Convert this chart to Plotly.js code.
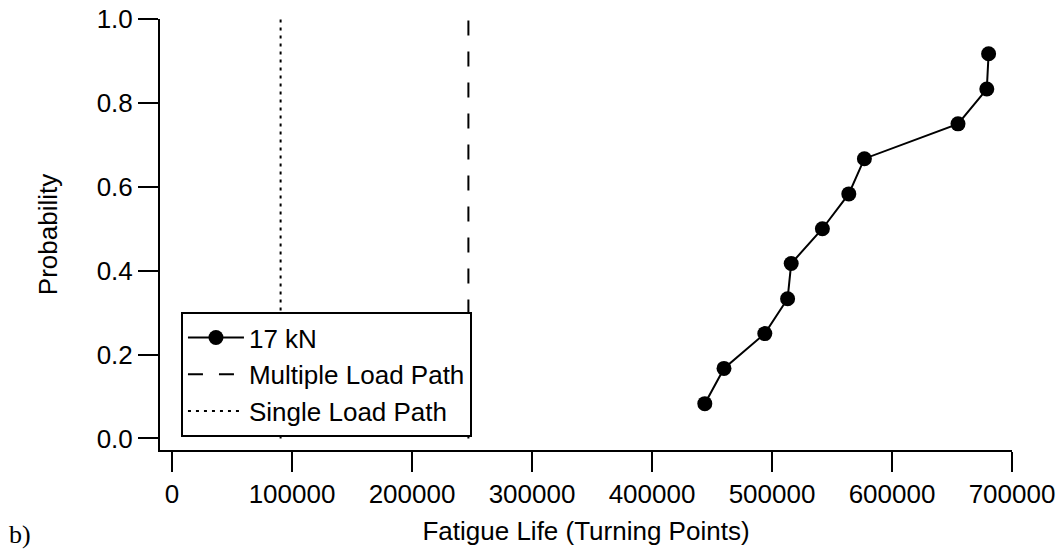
<!DOCTYPE html>
<html>
<head>
<meta charset="utf-8">
<script src="https://cdn.plot.ly/plotly-3.0.1.min.js"></script>
<style>
  html, body { margin: 0; padding: 0; background: #fff; }
  #chart { width: 1058px; height: 552px; }
</style>
</head>
<body>
<div id="chart"></div>
<script>
// Data
const fatigueLife17kN = [444000, 460000, 494000, 513000, 516000, 542000, 564000, 577000, 655000, 679000, 680500];
const probability17kN = [0.083, 0.167, 0.25, 0.333, 0.417, 0.5, 0.583, 0.667, 0.75, 0.833, 0.917];
const multipleLoadPathLife = 247000;
const singleLoadPathLife = 90500;
const verticalSpan = [0, 1];
const seriesNames = ['17 kN', 'Multiple Load Path', 'Single Load Path'];
const xTickValues = [0, 100000, 200000, 300000, 400000, 500000, 600000, 700000];
const yTickValues = [0.0, 0.2, 0.4, 0.6, 0.8, 1.0];

const FONT = '"Liberation Sans", Arial, Helvetica, sans-serif';

const traces = [
  {
    x: fatigueLife17kN, y: probability17kN, name: seriesNames[0],
    type: 'scatter', mode: 'lines+markers',
    line: { color: '#000', width: 2 },
    marker: { color: '#000', size: 15, symbol: 'circle' }
  },
  {
    x: [multipleLoadPathLife, multipleLoadPathLife], y: verticalSpan, name: seriesNames[1],
    type: 'scatter', mode: 'lines',
    line: { color: '#000', width: 2, dash: '15px,16px' }
  },
  {
    x: [singleLoadPathLife, singleLoadPathLife], y: verticalSpan, name: seriesNames[2],
    type: 'scatter', mode: 'lines',
    line: { color: '#000', width: 2, dash: '3px,5px' }
  }
];

const layout = {
  width: 1058, height: 552,
  margin: { l: 160, r: 46, t: 19, b: 102 },
  paper_bgcolor: '#fff', plot_bgcolor: '#fff',
  font: { family: FONT, size: 26, color: '#000' },
  showlegend: true,
  legend: {
    x: 0.0246, y: 0.175, xanchor: 'left', yanchor: 'middle',
    bgcolor: '#fff', bordercolor: '#000', borderwidth: 2,
    font: { family: FONT, size: 26, color: '#000' },
    itemwidth: 56, tracegroupgap: 0
  },
  xaxis: {
    range: [-10000, 700000],
    tickvals: xTickValues, tickformat: 'd',
    showgrid: false, zeroline: false,
    showline: true, linecolor: '#000', linewidth: 2,
    ticks: 'outside', ticklen: 20, tickwidth: 2, tickcolor: '#000',
    tickfont: { family: FONT, size: 26, color: '#000' },
    title: { text: 'Fatigue Life (Turning Points)', font: { family: FONT, size: 26, color: '#000' }, standoff: 14 }
  },
  yaxis: {
    range: [-0.0275, 1.0],
    tickvals: yTickValues, tickformat: '.1f',
    showgrid: false, zeroline: false,
    showline: true, linecolor: '#000', linewidth: 2,
    ticks: 'outside', ticklen: 20, tickwidth: 2, tickcolor: '#000',
    tickfont: { family: FONT, size: 26, color: '#000' },
    title: { text: 'Probability', font: { family: FONT, size: 26, color: '#000' }, standoff: 32 }
  },
  annotations: [
    {
      text: 'b)', xref: 'paper', yref: 'paper',
      x: -0.1796, y: -0.197, xanchor: 'left', yanchor: 'middle',
      showarrow: false,
      font: { family: '"Liberation Serif", "DejaVu Serif", serif', size: 26, color: '#000' }
    }
  ]
};

Plotly.newPlot('chart', traces, layout, { displayModeBar: false, staticPlot: true });
</script>
</body>
</html>
